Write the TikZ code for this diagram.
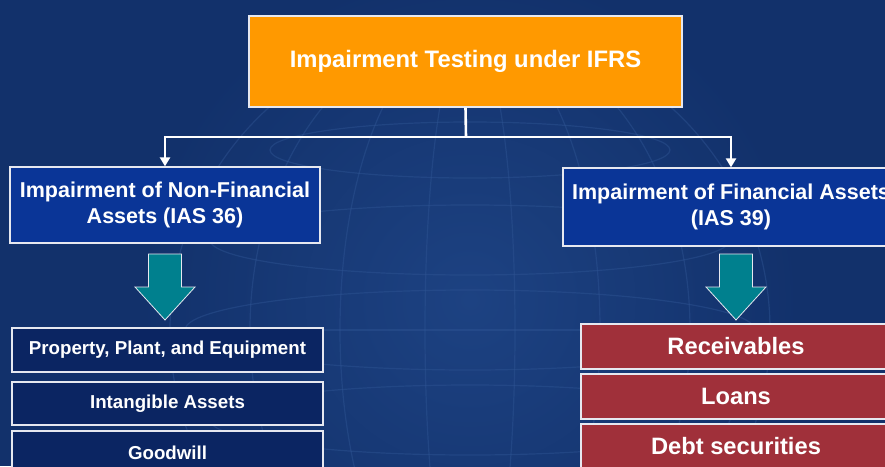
\documentclass[tikz,border=0pt]{standalone}
\usepackage{fontspec}
\setmainfont{Liberation Sans}
\usetikzlibrary{arrows.meta}
\definecolor{bgblue}{HTML}{12316B}
\definecolor{bglight}{HTML}{1D4282}
\definecolor{globeline}{HTML}{2F5594}
\definecolor{topor}{HTML}{FF9900}
\definecolor{midblue}{HTML}{0A3597}
\definecolor{navy}{HTML}{0B2562}
\definecolor{teal}{HTML}{00808E}
\definecolor{redbox}{HTML}{A0303A}
\definecolor{edge}{HTML}{E6E8F0}
\tikzset{
  box/.style={draw=edge, line width=1.3pt, text=white, inner sep=2pt, align=center},
  titlebox/.style={box, fill=topor, minimum width=433pt, minimum height=91pt, font=\bfseries\fontsize{23.8}{28}\selectfont},
  midbox/.style={box, fill=midblue, font=\bfseries\fontsize{21.5}{26}\selectfont},
  listbox/.style={box, fill=navy, minimum width=311pt, minimum height=44pt, font=\bfseries\fontsize{18.7}{22}\selectfont},
  redlist/.style={box, fill=redbox, minimum width=310pt, minimum height=45pt, font=\bfseries\fontsize{23.7}{28}\selectfont},
  link/.style={draw=white, line width=2.6pt, -{Triangle[width=10pt,length=9pt]}},
  bigarrow/.style={fill=teal, draw=edge, line width=0.8pt, line join=miter},
  globe/.style={draw=globeline, line width=1.2pt, opacity=0.45}
}
\begin{document}
\begin{tikzpicture}[x=1pt,y=-1pt]
\clip (0,0) rectangle (885,466);
\fill[bgblue] (0,0) rectangle (885,466);
\shade[inner color=bglight, outer color=bgblue] (470,300) circle (330);
% faint globe in the background
\begin{scope}[globe]
  \draw (470,330) circle (300);
  \draw (470,330) ellipse (220 and 300);
  \draw (470,330) ellipse (130 and 300);
  \draw (470,330) ellipse (45 and 300);
  \draw (170,330) -- (770,330);
  \draw (470,330) ellipse (285 and 40);
  \draw (470,240) ellipse (260 and 35);
  \draw (470,150) ellipse (200 and 28);
  \draw (470,80) ellipse (120 and 18);
  \draw (470,420) ellipse (260 and 35);
\end{scope}

\node[titlebox] (top) at (465.5,61.5) {Impairment Testing under IFRS};
\node[midbox, minimum width=310pt, minimum height=76pt] (nonfin) at (165,205) {Impairment of Non-Financial\\Assets (IAS 36)};
\node[midbox, minimum width=336pt, minimum height=78pt] (fin) at (731,207) {Impairment of Financial Assets\\(IAS 39)};

\coordinate (split) at (466,137);
\draw[draw=white, line width=2.6pt] (top.south) -- (split);
\draw[link] (split) -| (nonfin.north -| 165,0);
\draw[link] (split) -| (fin.north -| 731,0);

\node[listbox] (ppe) at (167.5,350) {Property, Plant, and Equipment};
\node[listbox, minimum height=43pt] (intang) at (167.5,403.5) {Intangible Assets};
\node[listbox, minimum height=43pt] (gw) at (167.5,452.5) {Goodwill};

\node[redlist] (recv) at (736,346.5) {Receivables};
\node[redlist] (loans) at (736,396.5) {Loans};
\node[redlist] (debt) at (736,446.5) {Debt securities};

% broad teal arrows
\coordinate (la) at (165,254);
\coordinate (ra) at (736,254);
\foreach \c in {la,ra}{
  \begin{scope}[shift={(\c)}]
    \draw[bigarrow] (-16.5,0) -- (-16.5,33) -- (-30,33) -- (0,66) -- (30,33) -- (16.5,33) -- (16.5,0) -- cycle;
  \end{scope}
}
\end{tikzpicture}
\end{document}
